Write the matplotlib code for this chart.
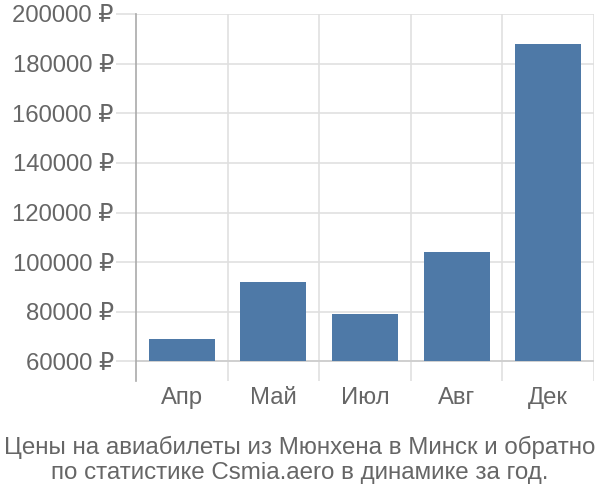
import matplotlib
matplotlib.use("Agg")
import matplotlib.pyplot as plt

months = ["Апр", "Май", "Июл", "Авг", "Дек"]
prices = [69000, 92000, 79300, 104000, 188000]
yticks = [60000, 80000, 100000, 120000, 140000, 160000, 180000, 200000]
title = "Цены на авиабилеты из Мюнхена в Минск и обратно\nпо статистике Csmia.aero в динамике за год."

plt.rcParams['font.family'] = ['Liberation Sans', 'DejaVu Sans']
fig = plt.figure(figsize=(6, 5), dpi=100)
ax = fig.add_axes([136/600, 1-381/500, (594-136)/600, (381-14)/500])

base = 60000
x = list(range(len(months)))
ax.bar(x, [p - base for p in prices], bottom=base, width=0.72, color="#4e79a7", zorder=3)
ax.set_xlim(-0.5, len(months) - 0.5)
ax.set_ylim(52100, 200000)
ax.set_yticks(yticks)
ax.set_yticklabels([f"{v} ₽" for v in yticks])
ax.set_xticks(x)
ax.set_xticklabels(months)
ax.set_xticks([i + 0.5 for i in x], minor=True)
ax.grid(False)
ax.yaxis.grid(True, color="#e0e0e0", linewidth=1.2, zorder=0)
ax.xaxis.grid(True, which="minor", color="#e0e0e0", linewidth=1.2, zorder=0)
ax.axhline(base, color="#cccccc", linewidth=1.2, zorder=2)
for s in ["top", "right", "bottom"]:
    ax.spines[s].set_visible(False)
ax.spines["left"].set_color("#aaaaaa")
ax.spines["left"].set_linewidth(1.2)
ax.tick_params(axis="y", length=14.4, color="#e0e0e0", width=1.2, labelsize=17.2, labelcolor="#666666", pad=1.5)
ax.tick_params(axis="x", which="major", length=0, labelsize=17.2, labelcolor="#666666", pad=4.5)
ax.tick_params(axis="x", which="minor", length=0)

fig.text(0.5, 1-460/500, title, ha="center", va="center", fontsize=17.4, color="#666666", linespacing=1.22)
fig.savefig("out.png", dpi=100)
